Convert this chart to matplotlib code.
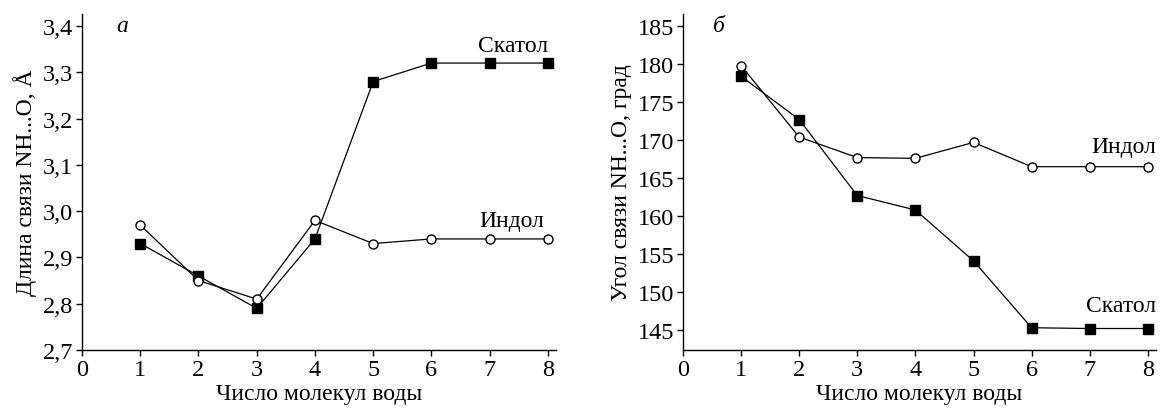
import numpy as np
import matplotlib
matplotlib.use("Agg")
import matplotlib.pyplot as plt
import matplotlib.ticker as mticker

plt.rcParams["font.family"] = ["Liberation Serif", "DejaVu Serif"]
plt.rcParams["font.size"] = 17

n_water = [1, 2, 3, 4, 5, 6, 7, 8]

# а: длина связи NH...O, Å
skatol_len = [2.93, 2.86, 2.79, 2.94, 3.28, 3.32, 3.32, 3.32]
indol_len = [2.97, 2.85, 2.81, 2.98, 2.93, 2.94, 2.94, 2.94]

# б: угол связи NH...O, град
skatol_ang = [178.4, 172.7, 162.7, 160.8, 154.1, 145.3, 145.2, 145.2]
indol_ang = [179.8, 170.4, 167.7, 167.6, 169.7, 166.5, 166.5, 166.5]

fig = plt.figure(figsize=(11.62, 4.10), dpi=100)
axA = fig.add_axes([0.0706, 0.1439, 0.4079, 0.8195])
axB = fig.add_axes([0.5878, 0.1439, 0.4070, 0.8195])


def style(ax):
    for s in ["top", "right"]:
        ax.spines[s].set_visible(False)
    for s in ["left", "bottom"]:
        ax.spines[s].set_linewidth(1.0)
    ax.tick_params(direction="out", length=4.3, width=1.0, pad=2,
                   labelsize=17.5)
    ax.set_xlim(0, 8.14)
    ax.set_xticks(range(0, 9))
    ax.set_xlabel("Число молекул воды", va="top")
    ax.xaxis.set_label_coords(0.5, -0.097)


def draw(ax, sk, ind):
    ax.plot(n_water, sk, color="black", linewidth=0.9, marker="s",
            markersize=7, markerfacecolor="black", markeredgecolor="black", zorder=3)
    ax.plot(n_water, ind, color="black", linewidth=0.9, marker="o",
            markersize=6.5, markerfacecolor="white", markeredgecolor="black",
            markeredgewidth=1.0, zorder=4)


draw(axA, skatol_len, indol_len)
style(axA)
axA.set_ylim(2.7, 3.426)
axA.set_yticks(np.arange(2.7, 3.41, 0.1))
axA.yaxis.set_major_formatter(
    mticker.FuncFormatter(lambda v, p: f"{v:.1f}".replace(".", ",")))
axA.set_ylabel("Длина связи NH...O, Å", labelpad=4)
axA.text(8.0, 3.345, "Скатол", ha="right", va="baseline")
axA.text(7.94, 2.968, "Индол", ha="right", va="baseline")
axA.text(0.69, 3.39, "а", ha="center", va="baseline", style="italic")

draw(axB, skatol_ang, indol_ang)
style(axB)
axB.set_ylim(142.37, 186.6)
axB.set_yticks(range(145, 186, 5))
axB.set_ylabel("Угол связи NH...O, град", labelpad=4)
axB.text(8.15, 168.4, "Индол", ha="right", va="baseline")
axB.text(8.15, 147.5, "Скатол", ha="right", va="baseline")
axB.text(0.62, 184.3, "б", ha="center", va="baseline", style="italic")

fig.savefig("out.png", dpi=100)
